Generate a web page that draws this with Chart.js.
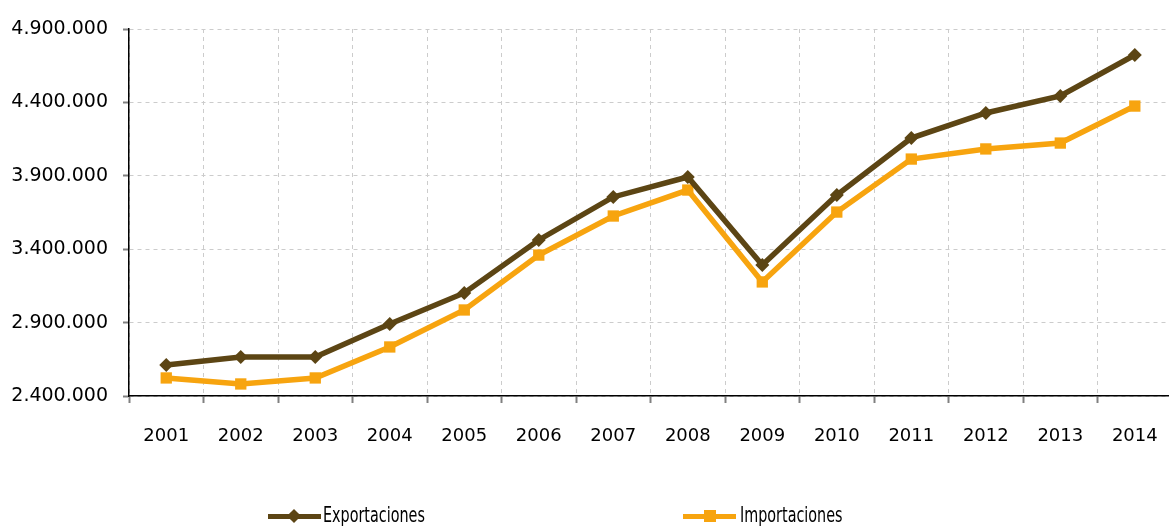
<!DOCTYPE html>
<html>
<head>
<meta charset="utf-8">
<script src="https://cdn.jsdelivr.net/npm/chart.js@4.4.1/dist/chart.umd.min.js"></script>
<style>
    html, body { margin: 0; padding: 0; background: #fff; overflow: hidden; }
    #wrap { position: relative; width: 1181px; height: 527px; }
    .leg { position: absolute; top: 503px; height: 26px; font: 21px "DejaVu Sans Condensed", "DejaVu Sans", sans-serif; color: #000; }
    .leg .ln { position: absolute; top: 11px; height: 5px; width: 53px; }
    .leg .mk { position: absolute; }
    .leg .tx { position: absolute; top: 0px; white-space: nowrap; transform: scaleX(0.76); transform-origin: left center; }
</style>
</head>
<body>
<div id="wrap">
    <canvas id="chart" width="1181" height="527"></canvas>
    <div class="leg" style="left:268px">
        <div class="ln" style="left:0;background:#5c4514"></div>
        <div class="mk" style="left:21px;top:8px;width:10px;height:10px;background:#5c4514;transform:rotate(45deg)"></div>
        <div class="tx" style="left:55px">Exportaciones</div>
    </div>
    <div class="leg" style="left:683px">
        <div class="ln" style="left:0;background:#f7a40f"></div>
        <div class="mk" style="left:21px;top:7px;width:12px;height:12px;background:#f7a40f"></div>
        <div class="tx" style="left:57px">Importaciones</div>
    </div>
</div>
<script>
const years = ['2001', '2002', '2003', '2004', '2005', '2006', '2007', '2008', '2009', '2010', '2011', '2012', '2013', '2014'];
const exportaciones = [2611000, 2666000, 2666000, 2890000, 3102000, 3463000, 3756000, 3892000, 3292000, 3769000, 4157000, 4328000, 4444000, 4723000];
const importaciones = [2523000, 2482000, 2523000, 2734000, 2986000, 3360000, 3626000, 3803000, 3177000, 3653000, 4014000, 4083000, 4123000, 4375000];
const yTicks = [2400000, 2900000, 3400000, 3900000, 4400000, 4900000];

const brown = '#5c4514';
const orange = '#f7a40f';

function fmt(v) {
    return v.toString().replace(/\B(?=(\d{3})+(?!\d))/g, '.');
}

const ctx = document.getElementById('chart').getContext('2d');
new Chart(ctx, {
    type: 'line',
    data: {
        labels: years,
        datasets: [{
            label: 'Exportaciones',
            data: exportaciones,
            borderColor: brown,
            backgroundColor: brown,
            borderWidth: 5.5,
            pointStyle: 'rectRot',
            pointRadius: 7,
            pointBorderWidth: 0,
            tension: 0
        }, {
            label: 'Importaciones',
            data: importaciones,
            borderColor: orange,
            backgroundColor: orange,
            borderWidth: 5.5,
            pointStyle: 'rect',
            pointRadius: 8,
            pointBorderWidth: 0,
            tension: 0
        }]
    },
    options: {
        responsive: false,
        animation: false,
        layout: { padding: { top: 29, right: 1, left: 0, bottom: 0 } },
        plugins: {
            legend: { display: false },
            tooltip: { enabled: false }
        },
        scales: {
            x: {
                offset: true,
                grid: {
                    offset: true,
                    color: '#cccccc',
                    tickColor: '#808080',
                    tickLength: 7,
                    tickBorderDash: [],
                    tickWidth: 2
                },
                border: { color: '#000', width: 1.5, dash: [4, 4] },
                ticks: {
                    color: '#000',
                    font: { family: 'DejaVu Sans', size: 18 },
                    padding: 23,
                    maxRotation: 0
                },
                afterFit(scale) { scale.height = 131; }
            },
            y: {
                min: 2400000,
                max: 4900000,
                afterBuildTicks(scale) { scale.ticks = yTicks.map(v => ({ value: v })); },
                grid: {
                    color: '#cccccc',
                    tickColor: '#808080',
                    tickLength: 6,
                    tickBorderDash: [],
                    tickWidth: 2
                },
                border: { color: '#000', width: 1.5, dash: [4, 4] },
                ticks: {
                    color: '#000',
                    font: { family: 'DejaVu Sans', size: 19 },
                    padding: 15,
                    callback: v => fmt(v)
                },
                afterFit(scale) { scale.width = 129; }
            }
        }
    }
});
</script>
</body>
</html>
